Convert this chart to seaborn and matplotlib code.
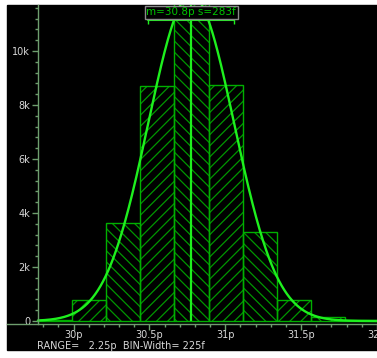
import numpy as np
import pandas as pd
import matplotlib
matplotlib.use("Agg")
import matplotlib.pyplot as plt
import matplotlib.transforms as mtransforms
from matplotlib.patches import Rectangle
import seaborn as sns

# histogram data (values in pico units)
bin_start = 29.765
bin_width = 0.225
counts = [40, 780, 3640, 8710, 11900, 8750, 3280, 780, 140, 30]
mean_val = 30.775
sigma_val = 0.283
stat_label = "m=30.8p s=283f"
footer_text = "RANGE=   2.25p  BIN-Width= 225f"
x_tick_vals = [30, 30.5, 31, 31.5, 32]
x_tick_labels = ["30p", "30.5p", "31p", "31.5p", "32p"]
y_tick_vals = [0, 2000, 4000, 6000, 8000, 10000]
y_tick_labels = ["0", "2k", "4k", "6k", "8k", "10k"]

edges = [bin_start + bin_width * i for i in range(len(counts) + 1)]
centers = [e + bin_width / 2 for e in edges[:-1]]
df = pd.DataFrame({"x": centers, "count": counts})

sns.set_style("dark")
plt.rcParams['font.family'] = ['DejaVu Sans']
plt.rcParams['hatch.linewidth'] = 0.9

W, H = 377, 358
fig = plt.figure(figsize=(W / 100, H / 100), dpi=100, facecolor="white")
bg = Rectangle((7 / W, 8 / H), 370 / W, 345 / H,
               transform=fig.transFigure, color="black", zorder=-10)
fig.patches.append(bg)
ax = fig.add_axes([7 / W, (H - 324) / H, 370 / W, 319 / H])
ax.set_facecolor("black")
ax.grid(False)

axis_col = "#6e9e6e"
text_col = "#d8d8d8"
hatch_col = "#009600"
edge_col = "#00b000"
bright = "#1ef01e"

# hatched fill, alternating direction
sns.histplot(data=df, x="x", weights="count", bins=edges, ax=ax,
             color="black", edgecolor=hatch_col, linewidth=0, alpha=1)
for i, p in enumerate(ax.patches):
    p.set_hatch("///" if i % 2 else "\\\\\\")
    p.set_facecolor("black")
# outlines
sns.histplot(data=df, x="x", weights="count", bins=edges, ax=ax,
             fill=False, element="bars", color=edge_col, linewidth=1.0)

# normal fit curve from the displayed mean / sigma
total = sum(counts)
xs = np.linspace(edges[0], edges[-1], 400)
ys = total * bin_width / (sigma_val * np.sqrt(2 * np.pi)) * np.exp(-0.5 * ((xs - mean_val) / sigma_val) ** 2)
sns.lineplot(x=xs, y=ys, ax=ax, color=bright, linewidth=1.7)

ax.vlines(mean_val, 0, 11700, color=bright, linewidth=1.6)
ax.plot([mean_val - sigma_val, mean_val + sigma_val], [11150, 11150], color=bright,
        linewidth=1.5, marker="|", markersize=6, clip_on=False)

trans = mtransforms.blended_transform_factory(ax.transData, ax.transAxes)
ax.text(mean_val, 0.977, stat_label, transform=trans, ha="center", va="center",
        color="#00c400", fontsize=7.5,
        bbox=dict(facecolor="black", edgecolor="#8a8a8a", pad=1.2, linewidth=1))

ax.set_xlim(29.561, 31.993)
ax.set_ylim(-110, 11700)
ax.set_xlabel("")
ax.set_ylabel("")

for s in ["top", "right"]:
    ax.spines[s].set_visible(False)
ax.spines["left"].set_position(("data", bin_start))
ax.spines["left"].set_color(axis_col)
ax.spines["bottom"].set_color(axis_col)
ax.spines["left"].set_linewidth(1)
ax.spines["bottom"].set_linewidth(1)

ax.set_xticks(x_tick_vals)
ax.set_xticklabels(x_tick_labels)
ax.set_yticks(y_tick_vals)
ax.set_yticklabels(y_tick_labels)
ax.set_xticks([v for v in np.arange(29.8, 31.95, 0.1) if min(abs(v - t) for t in x_tick_vals) > 0.01], minor=True)
ax.set_yticks([v for v in range(400, 11700, 400) if v % 2000], minor=True)
ax.tick_params(which="both", direction="out", colors=axis_col, labelcolor=text_col,
               labelsize=7, width=1, bottom=True, left=True)
ax.tick_params(which="major", length=4, pad=1.5)
ax.tick_params(axis="x", which="major", pad=0.3)
ax.tick_params(which="minor", length=2.5)

fig.text(37 / W, (H - 346) / H, footer_text, color=text_col, fontsize=7,
         ha="left", va="center")

fig.savefig("out.png", dpi=100, facecolor="white")
